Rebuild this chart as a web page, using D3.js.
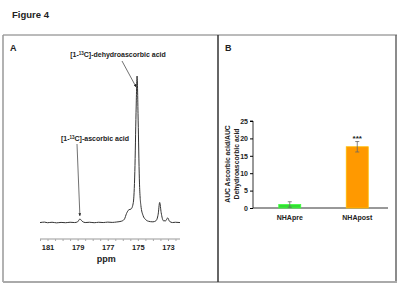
<!DOCTYPE html>
<html>
<head>
<meta charset="utf-8">
<script src="https://cdn.jsdelivr.net/npm/d3@7"></script>
<style>
  body { margin: 0; background: #fff; }
  svg text { font-family: "Liberation Sans", Arial, sans-serif; font-weight: bold; fill: #222; }
</style>
</head>
<body>
<div id="chart"></div>
<script>
// Panel A: 13C spectrum (ppm, relative intensity)
const ppmValues = [181.5, 181.2, 181.0, 180.7, 180.4, 180.1, 179.8, 179.5, 179.2, 179.0, 178.85, 178.7, 178.5,
  178.2, 177.9, 177.6, 177.3, 177.0, 176.7, 176.4, 176.1, 175.9, 175.75, 175.6, 175.45, 175.3, 175.2, 175.12,
  175.05, 174.98, 174.9, 174.8, 174.65, 174.5, 174.3, 174.0, 173.8, 173.65, 173.55, 173.45, 173.3, 173.15,
  173.02, 172.9, 172.7, 172.5, 172.2];
const intensityValues = [0.3, 0.6, 0.2, 0.5, 0.1, 0.4, 0.2, 0.5, 0.3, 0.8, 2.7, 1.2, 0.3,
  0.5, 0.2, 0.5, 0.3, 0.6, 0.4, 0.7, 1.2, 2.5, 6.5, 9, 9.5, 14, 35, 75,
  100, 70, 30, 12, 5, 2.5, 1.2, 0.8, 1.5, 6, 14, 7, 1.5, 1.5,
  3.5, 1.2, 0.3, 0.5, 0.3];
const ppmTickLabels = [181, 179, 177, 175, 173];
const peakLabels = [
  { text: "ascorbic acid", ppm: 178.85, value: 2.7 },
  { text: "dehydroascorbic acid", ppm: 175.05, value: 100 }
];

// Panel B: bar chart
const groups = ["NHApre", "NHApost"];
const ratioValues = [1.0, 17.6];
const ratioErrors = [0.8, 1.5];
const barColors = ["#33dd33", "#ff9900"];
const significance = ["", "***"];
const ratioTicks = [0, 5, 10, 15, 20, 25];

const svg = d3.select("#chart").append("svg")
    .attr("width", 400)
    .attr("height", 300);

svg.append("text")
    .attr("x", 12).attr("y", 18)
    .style("font-size", "9.5px")
    .text("Figure 4");

// Frame
svg.append("line").attr("x1", 3).attr("x2", 397).attr("y1", 35).attr("y2", 35)
    .style("stroke", "#777").style("stroke-width", 1);
svg.append("line").attr("x1", 3).attr("x2", 3).attr("y1", 35).attr("y2", 282)
    .style("stroke", "#999").style("stroke-width", 1.5);
svg.append("line").attr("x1", 396).attr("x2", 396).attr("y1", 35).attr("y2", 282)
    .style("stroke", "#666").style("stroke-width", 1.5);
svg.append("line").attr("x1", 3).attr("x2", 397).attr("y1", 282).attr("y2", 282)
    .style("stroke", "#aaa").style("stroke-width", 2);
svg.append("line").attr("x1", 218).attr("x2", 218).attr("y1", 35).attr("y2", 282)
    .style("stroke", "#333").style("stroke-width", 1.5);

svg.append("text").attr("x", 10).attr("y", 51).style("font-size", "9px").text("A");
svg.append("text").attr("x", 225).attr("y", 51).style("font-size", "9px").text("B");

// ---------- Panel A ----------
const spectrum = ppmValues.map((p, i) => ({ ppm: p, value: intensityValues[i] }));

const xPpm = d3.scaleLinear().domain([181.5, 172.2]).range([40, 180]);
const yInt = d3.scaleLinear().domain([0, 100]).range([223, 76]);

const axisA = svg.append("g")
    .attr("transform", "translate(0,239)")
    .call(d3.axisBottom(xPpm).tickValues(d3.range(181.5, 172.1, -0.5)).tickSize(2).tickFormat(""));
axisA.select(".domain").attr("d", "M40,0H180").style("stroke", "#999");
axisA.selectAll(".tick line").style("stroke", "#aaa");

const labelsA = svg.append("g")
    .attr("transform", "translate(0,239)")
    .call(d3.axisBottom(xPpm).tickValues(ppmTickLabels).tickSize(0).tickPadding(6).tickFormat(d3.format("d")));
labelsA.select(".domain").remove();
labelsA.selectAll("text")
    .style("font-family", "Liberation Sans, Arial, sans-serif")
    .style("font-weight", "bold")
    .style("font-size", "7.5px")
    .style("fill", "#222");

svg.append("text")
    .attr("x", xPpm(177.1)).attr("y", 262)
    .style("text-anchor", "middle")
    .style("font-size", "9px")
    .text("ppm");

svg.append("path")
    .datum(spectrum)
    .attr("d", d3.line().x(d => xPpm(d.ppm)).y(d => yInt(d.value)).curve(d3.curveMonotoneX))
    .style("fill", "none")
    .style("stroke", "#333")
    .style("stroke-width", 1);

svg.append("defs").append("marker")
    .attr("id", "arrow")
    .attr("viewBox", "0 0 6 6")
    .attr("refX", 6).attr("refY", 3)
    .attr("markerWidth", 4).attr("markerHeight", 4)
    .attr("orient", "auto")
    .append("path").attr("d", "M0,0L6,3L0,6Z").style("fill", "#222");

// label text position and arrow start, per peak
const labelPos = [{ x: 95, y: 141, sx: 77, sy: 144, ey: 216 }, { x: 118, y: 57, sx: 122, sy: 61, ey: 87 }];
peakLabels.forEach((p, i) => {
    const lp = labelPos[i];
    const t = svg.append("text")
        .attr("x", lp.x).attr("y", lp.y)
        .style("text-anchor", "middle")
        .style("font-size", "7px");
    t.append("tspan").text("[1-");
    t.append("tspan").attr("dy", -2.5).style("font-size", "4.5px").text("13");
    t.append("tspan").attr("dy", 2.5).text("C]-" + p.text);

    svg.append("line")
        .attr("x1", lp.sx).attr("y1", lp.sy)
        .attr("x2", xPpm(p.ppm) - (i === 0 ? 0 : 1)).attr("y2", lp.ey)
        .style("stroke", "#333").style("stroke-width", 0.7)
        .attr("marker-end", "url(#arrow)");
});

// ---------- Panel B ----------
const xBand = d3.scaleBand().domain(groups).range([256, 391]);
const yRatio = d3.scaleLinear().domain([0, 25]).range([208, 121]);
const barW = 22;

const yAxisB = svg.append("g")
    .attr("transform", "translate(253,0)")
    .call(d3.axisLeft(yRatio).tickValues(ratioTicks).tickSize(3).tickPadding(2));
yAxisB.select(".domain").attr("d", "M-3,121H0V208").style("stroke", "#333");
yAxisB.selectAll("text")
    .style("font-family", "Liberation Sans, Arial, sans-serif")
    .style("font-weight", "bold")
    .style("font-size", "7px")
    .style("fill", "#222");

svg.append("line").attr("x1", 253).attr("x2", 388).attr("y1", 208).attr("y2", 208)
    .style("stroke", "#333").style("stroke-width", 1);

svg.selectAll(".bar")
    .data(groups)
    .enter().append("rect")
    .attr("class", "bar")
    .attr("x", d => xBand(d) + xBand.bandwidth() / 2 - barW / 2)
    .attr("width", barW)
    .attr("y", (d, i) => yRatio(ratioValues[i]))
    .attr("height", (d, i) => yRatio(0) - yRatio(ratioValues[i]))
    .style("fill", (d, i) => barColors[i])
    .style("stroke", (d, i) => d3.color(barColors[i]).brighter(0.6))
    .style("stroke-width", 0.8);

groups.forEach((g, i) => {
    const cx = xBand(g) + xBand.bandwidth() / 2;
    const top = yRatio(ratioValues[i] + ratioErrors[i]);
    const bot = yRatio(ratioValues[i] - ratioErrors[i]);
    svg.append("line").attr("x1", cx).attr("x2", cx).attr("y1", top).attr("y2", bot)
        .style("stroke", "#666").style("stroke-width", 0.8);
    svg.append("line").attr("x1", cx - 2).attr("x2", cx + 2).attr("y1", top).attr("y2", top)
        .style("stroke", "#666").style("stroke-width", 0.8);
    svg.append("line").attr("x1", cx - 2).attr("x2", cx + 2).attr("y1", bot).attr("y2", bot)
        .style("stroke", "#666").style("stroke-width", 0.8);
    if (significance[i]) {
        svg.append("text")
            .attr("x", cx).attr("y", top - 1)
            .style("text-anchor", "middle")
            .style("font-size", "8px")
            .text(significance[i]);
    }
    svg.append("text")
        .attr("x", cx).attr("y", 220)
        .style("text-anchor", "middle")
        .style("font-size", "7px")
        .text(g);
});

const yTitle = svg.append("text")
    .attr("transform", "translate(230,164) rotate(-90)")
    .style("text-anchor", "middle")
    .style("font-size", "6.8px");
yTitle.append("tspan").attr("x", 0).attr("dy", 0).text("AUC Ascorbic acid/AUC");
yTitle.append("tspan").attr("x", 0).attr("dy", 8.5).text("Dehydroascorbic acid");
</script>
</body>
</html>
